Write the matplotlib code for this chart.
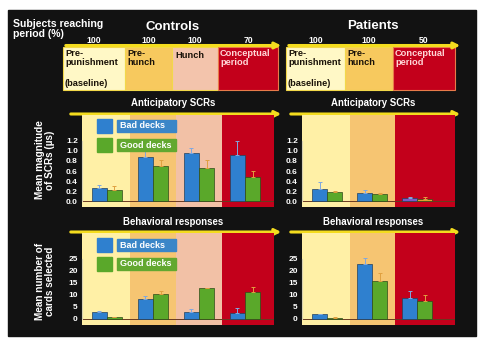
import numpy as np
import matplotlib
matplotlib.use('Agg')
import matplotlib.pyplot as plt
from matplotlib.patches import Rectangle

plt.rcParams['font.family'] = ['Liberation Sans', 'DejaVu Sans']
plt.rcParams['font.weight'] = 'bold'

# ---------------- data ----------------
ctrl_periods = ['Pre-\npunishment', 'Pre-\nhunch', 'Hunch', 'Conceptual\nperiod']
pat_periods = ['Pre-\npunishment', 'Pre-\nhunch', 'Conceptual\nperiod']
ctrl_reach = [100, 100, 100, 70]
pat_reach = [100, 100, 50]

scr_bad_ctrl = [0.27, 0.87, 0.95, 0.91]
scr_bad_ctrl_err = [0.06, 0.14, 0.12, 0.29]
scr_good_ctrl = [0.23, 0.70, 0.66, 0.48]
scr_good_ctrl_err = [0.07, 0.13, 0.16, 0.12]
scr_bad_pat = [0.24, 0.16, 0.06]
scr_bad_pat_err = [0.15, 0.07, 0.02]
scr_good_pat = [0.19, 0.15, 0.05]
scr_good_pat_err = [0.01, 0.02, 0.03]

beh_bad_ctrl = [3.1, 8.4, 3.1, 2.7]
beh_bad_ctrl_err = [0.3, 1.2, 0.9, 1.9]
beh_good_ctrl = [0.8, 10.3, 12.8, 11.3]
beh_good_ctrl_err = [0.2, 1.4, 0.3, 1.9]
beh_bad_pat = [1.9, 22.9, 8.6]
beh_bad_pat_err = [0.3, 2.6, 3.1]
beh_good_pat = [0.55, 15.8, 7.6]
beh_good_pat_err = [0.15, 3.5, 2.4]

scr_ticks = [0.0, 0.2, 0.4, 0.6, 0.8, 1.0, 1.2]
beh_ticks = [0, 5, 10, 15, 20, 25]

# ---------------- style ----------------
W, H = 485, 345
BLACK = '#121212'
YEL = '#f4dc1e'
BLUE = '#2f80cf'
GREEN = '#5aa82a'
ctrl_bg = ['#fff0a6', '#f6c572', '#f2c1a6', '#c3001b']
pat_bg = ['#fff0a6', '#f6c572', '#c3001b']
ctrl_top = ['#fff8c6', '#f7c95e', '#f3c4ac', '#c3001b']
pat_top = ['#fff8c6', '#f7c95e', '#c3001b']

fig = plt.figure(figsize=(W / 100, H / 100), dpi=100)
fig.patch.set_facecolor('white')


def px_axes(x0, y0, x1, y1):
    return fig.add_axes([x0 / W, 1 - y1 / H, (x1 - x0) / W, (y1 - y0) / H])


bg = px_axes(0, 0, W, H)
bg.set_xlim(0, W)
bg.set_ylim(H, 0)
bg.axis('off')
bg.add_patch(Rectangle((8, 10), 468, 326, color=BLACK, zorder=0))

# headers
bg.text(13, 24, 'Subjects reaching', color='white', fontsize=7.6, va='center', ha='left')
bg.text(13, 34, 'period (%)', color='white', fontsize=7.6, va='center', ha='left')
bg.text(173, 27, 'Controls', color='white', fontsize=9.5, ha='center', va='center')
bg.text(373, 26, 'Patients', color='white', fontsize=9.5, ha='center', va='center')


# top period boxes
def period_row(edges, colors, labels, reach, arrow_end):
    bg.annotate('', xy=(arrow_end, 45.5), xytext=(edges[0], 45.5),
                arrowprops=dict(arrowstyle='-|>', color=YEL, lw=2.2, mutation_scale=9))
    for i in range(len(labels)):
        x0, x1 = edges[i], edges[i + 1]
        red = colors[i] == '#c3001b'
        bg.add_patch(Rectangle((x0, 46.5), x1 - x0, 43.5, facecolor=colors[i],
                               edgecolor='#e87a4a' if red else '#f2d84a', lw=0.8, zorder=2))
        tc = '#ffd8d8' if red else '#1a1208'
        if labels[i] == 'Hunch':
            bg.text(x0 + 3, 51, labels[i], color=tc, fontsize=6.7, va='top', zorder=3)
        else:
            bg.text(x0 + 2, 49, labels[i], color=tc, fontsize=6.7, va='top',
                    linespacing=0.95, zorder=3)
        if labels[i].startswith('Pre-\npun'):
            bg.text(x0 + 2, 83, '(baseline)', color=tc, fontsize=6.7, va='center', zorder=3)
        bg.text((x0 + x1) / 2, 40.5, str(reach[i]), color='white', fontsize=6.2,
                ha='center', va='center')


period_row([63, 125, 172, 218, 278], ctrl_top, ctrl_periods, ctrl_reach, 284)
period_row([286, 345, 393, 455], pat_top, pat_periods, pat_reach, 463)

# section titles and arrows
for y, title in [(103, 'Anticipatory SCRs'), (222, 'Behavioral responses')]:
    bg.text(173, y, title, color='white', fontsize=6.9, ha='center', va='center')
    bg.text(373, y, title, color='white', fontsize=6.9, ha='center', va='center')
for y in [114, 232]:
    bg.annotate('', xy=(284, y), xytext=(68, y),
                arrowprops=dict(arrowstyle='-|>', color=YEL, lw=2.2, mutation_scale=9))
    bg.annotate('', xy=(463, y), xytext=(288, y),
                arrowprops=dict(arrowstyle='-|>', color=YEL, lw=2.2, mutation_scale=9))

bg.text(45, 160, 'Mean magnitude\nof SCRs (\u00b5s)', color='white', fontsize=7.2,
        rotation=90, ha='center', va='center', linespacing=0.95)
bg.text(45, 281, 'Mean number of\ncards selected', color='white', fontsize=7.2,
        rotation=90, ha='center', va='center', linespacing=0.95)


def panel(box, xlim, ylim, bands, bad, bad_err, good, good_err, ticks, fmt,
          bad_colors=None, good_colors=None):
    ax = px_axes(*box)
    n = len(bad)
    x = np.arange(n)
    for i, c in enumerate(bands):
        right = i + 0.5 if i < n - 1 else xlim[1]
        left = i - 0.5 if i > 0 else xlim[0]
        ax.axvspan(left, right, color=c, zorder=0, lw=0)
    w = 0.33
    bc = bad_colors or [BLUE] * n
    gc = good_colors or [GREEN] * n
    ax.bar(x - w / 2, bad, w, color=bc, edgecolor='#24405a', lw=0.5, zorder=2)
    ax.bar(x + w / 2, good, w, color=gc, edgecolor='#2d4a18', lw=0.5, zorder=2)
    ax.errorbar(x - w / 2, bad, yerr=[np.zeros(n), bad_err], fmt='none',
                ecolor='#7fa8e0', elinewidth=0.7, capsize=1.5, capthick=0.7, zorder=3)
    ax.errorbar(x + w / 2, good, yerr=[np.zeros(n), good_err], fmt='none',
                ecolor='#e0a040', elinewidth=0.7, capsize=1.5, capthick=0.7, zorder=3)
    ax.axhline(0, color='#6a3a20', lw=0.7, zorder=1)
    ax.plot([xlim[0], xlim[0]], [0, ticks[-1]], color='#d8d0b0', lw=0.8, zorder=1,
            clip_on=False)
    ax.set_xlim(*xlim)
    ax.set_ylim(*ylim)
    ax.set_xticks([])
    ax.set_yticks(ticks)
    ax.set_yticklabels([fmt.format(t) for t in ticks])
    ax.tick_params(axis='y', length=0, pad=3, labelsize=6, labelcolor='white')
    for s in ax.spines.values():
        s.set_visible(False)
    return ax


panel((82, 115, 274, 207), (-0.54, 3.63), (-0.12, 1.72), ctrl_bg,
      scr_bad_ctrl, scr_bad_ctrl_err, scr_good_ctrl, scr_good_ctrl_err, scr_ticks, '{:.1f}')
panel((302, 115, 455, 207), (-0.56, 2.84), (-0.12, 1.72), pat_bg,
      scr_bad_pat, scr_bad_pat_err, scr_good_pat, scr_good_pat_err, scr_ticks, '{:.1f}',
      bad_colors=[BLUE, BLUE, '#7a5cc8'], good_colors=[GREEN, GREEN, '#e0a030'])
panel((82, 233, 274, 325), (-0.54, 3.63), (-2.5, 35.8), ctrl_bg,
      beh_bad_ctrl, beh_bad_ctrl_err, beh_good_ctrl, beh_good_ctrl_err, beh_ticks, '{:d}')
panel((302, 233, 455, 325), (-0.56, 2.84), (-2.5, 35.8), pat_bg,
      beh_bad_pat, beh_bad_pat_err, beh_good_pat, beh_good_pat_err, beh_ticks, '{:d}')

# legends (controls panels)
top = fig.add_axes([0, 0, 1, 1], zorder=10)
top.set_xlim(0, W)
top.set_ylim(H, 0)
top.axis('off')
for y0 in [119, 238]:
    top.add_patch(Rectangle((97, y0), 15, 14, color=BLUE))
    top.add_patch(Rectangle((117, y0 + 1), 59, 12, color='#3a86c8'))
    top.text(120, y0 + 7, 'Bad decks', color='white', fontsize=6.5, va='center')
    top.add_patch(Rectangle((97, y0 + 19), 15, 14, color=GREEN))
    top.add_patch(Rectangle((117, y0 + 20), 59, 12, color='#62a830'))
    top.text(120, y0 + 26, 'Good decks', color='white', fontsize=6.5, va='center')

fig.savefig('out.png', dpi=100, facecolor='white')
